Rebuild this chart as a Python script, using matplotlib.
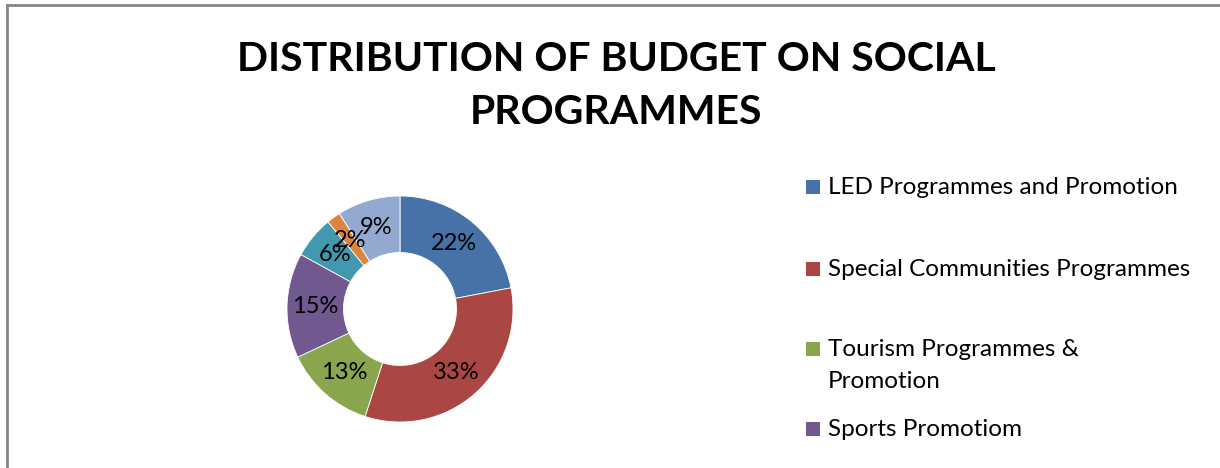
import matplotlib
matplotlib.use("Agg")
import matplotlib.pyplot as plt
from matplotlib.patches import Rectangle
from matplotlib.lines import Line2D

# Budget shares (%) by programme, clockwise from 12 o'clock
shares = [22, 33, 13, 15, 6, 2, 9]
colors = ["#4672A8", "#AA4643", "#89A54E", "#71588F", "#4198AF", "#DB843D", "#93A9CF"]
legend_labels = [
    "LED Programmes and Promotion",
    "Special Communities Programmes",
    "Tourism Programmes &\nPromotion",
    "Sports Promotiom",
]
title = "DISTRIBUTION OF BUDGET ON SOCIAL\nPROGRAMMES"

plt.rcParams["font.family"] = ["Lato", "DejaVu Sans"]

W, H = 1220, 468
fig = plt.figure(figsize=(W / 100, H / 100), dpi=100)
fig.patch.set_facecolor("white")

# chart frame (top and left edges)
fig.add_artist(Line2D([6.5 / W, 6.5 / W], [0, 1 - 4.5 / H], transform=fig.transFigure,
                      color="#868686", lw=2))
fig.add_artist(Line2D([6.5 / W, 1], [1 - 4.5 / H, 1 - 4.5 / H], transform=fig.transFigure,
                      color="#868686", lw=2))

# donut
cx, cy, r = 400, 309, 113
ax = fig.add_axes([(cx - r) / W, (H - cy - r) / H, 2 * r / W, 2 * r / H])
ax.pie(shares, colors=colors, startangle=90, counterclock=False,
       wedgeprops=dict(width=0.5, edgecolor="white", linewidth=0.6),
       autopct=lambda p: f"{p:.0f}%", pctdistance=0.75,
       textprops=dict(fontsize=17, color="black"))
ax.set_xlim(-1, 1)
ax.set_ylim(-1, 1)
ax.set_aspect("equal")
ax.axis("off")

# title
fig.text(616 / W, 1 - 86 / H, title, ha="center", va="center", fontsize=29.5,
         fontweight="bold", linespacing=1.55)

# legend (visible portion)
legend_y = [187, 269, 349, 429]
line_step = 32
for label, col, y in zip(legend_labels, colors, legend_y):
    fig.add_artist(Rectangle((806 / W, 1 - (y + 7) / H), 14 / W, 14 / H,
                             transform=fig.transFigure, facecolor=col, edgecolor="none"))
    for i, line in enumerate(label.split("\n")):
        fig.text(828 / W, 1 - (y + i * line_step) / H, line, ha="left", va="center",
                 fontsize=17.5)

fig.savefig("out.png", dpi=100, facecolor="white")
